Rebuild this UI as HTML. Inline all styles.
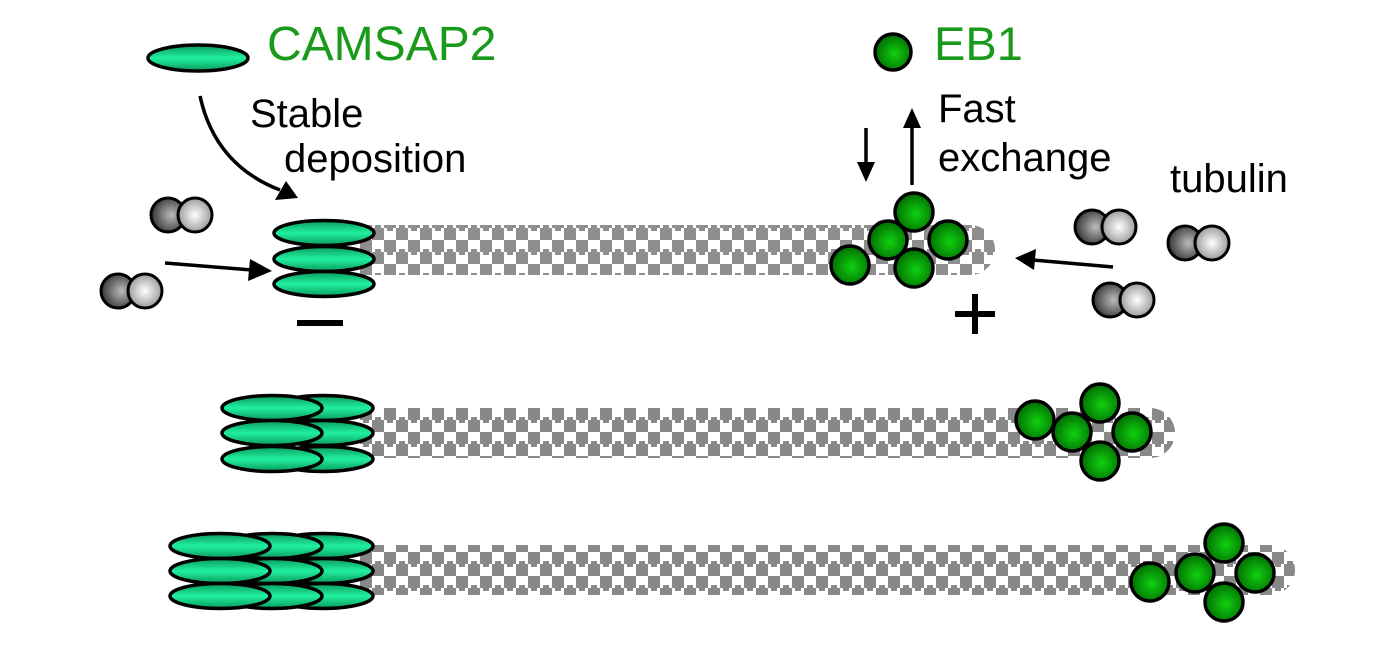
<!DOCTYPE html>
<html><head><meta charset="utf-8"><style>html,body{margin:0;padding:0;background:#fff}svg{display:block}</style></head><body>
<svg width="1386" height="657" viewBox="0 0 1386 657" xmlns="http://www.w3.org/2000/svg" font-family="Liberation Sans, Arial, sans-serif">
<defs>
<pattern id="chk" width="24" height="24" patternUnits="userSpaceOnUse">
<rect width="24" height="24" fill="#fff"/>
<rect width="12" height="12" fill="#888"/><rect x="12" y="12" width="12" height="12" fill="#888"/>
<rect x="3" y="12" width="6" height="3" fill="#888"/><rect x="15" y="9" width="6" height="3" fill="#888"/>
</pattern>
<linearGradient id="gE" x1="0" y1="0" x2="0" y2="1"><stop offset="0" stop-color="#0a9a5a"/><stop offset="0.5" stop-color="#20f0a0"/><stop offset="1" stop-color="#0a9a5a"/></linearGradient>
<radialGradient id="gB" cx="0.55" cy="0.55" r="0.6"><stop offset="0" stop-color="#10d010"/><stop offset="1" stop-color="#006400"/></radialGradient>
<radialGradient id="gT1" cx="0.6" cy="0.5" r="0.6"><stop offset="0" stop-color="#bbb"/><stop offset="1" stop-color="#333"/></radialGradient>
<radialGradient id="gT2" cx="0.5" cy="0.5" r="0.6"><stop offset="0" stop-color="#fff"/><stop offset="1" stop-color="#888"/></radialGradient>
<g id="E"><ellipse rx="50" ry="12.5" fill="url(#gE)" stroke="#000" stroke-width="3.5"/></g>
<g id="B"><circle r="19" fill="url(#gB)" stroke="#000" stroke-width="3.5"/></g>
<g id="T"><circle cx="0" r="17" fill="url(#gT1)" stroke="#000" stroke-width="3"/><circle cx="27" r="17" fill="url(#gT2)" stroke="#000" stroke-width="3"/></g>
</defs>

<path d="M360,225 H970 A25,25 0 0 1 970,275 H360 Z" fill="url(#chk)" opacity="0.95"/>
<path d="M360,408 H1150 A25,25 0 0 1 1150,458 H360 Z" fill="url(#chk)"/>
<path d="M360,545 H1270 A25,25 0 0 1 1270,595 H360 Z" fill="url(#chk)"/>

<use href="#E" x="324" y="233"/><use href="#E" x="324" y="259"/><use href="#E" x="324" y="284"/>
<use href="#E" x="323" y="408"/><use href="#E" x="323" y="433"/><use href="#E" x="323" y="459"/>
<use href="#E" x="272" y="408"/><use href="#E" x="272" y="433"/><use href="#E" x="272" y="459"/>
<use href="#E" x="323" y="546"/><use href="#E" x="323" y="571"/><use href="#E" x="323" y="596"/>
<use href="#E" x="272" y="546"/><use href="#E" x="272" y="571"/><use href="#E" x="272" y="596"/>
<use href="#E" x="220" y="546"/><use href="#E" x="220" y="571"/><use href="#E" x="220" y="596"/>

<use href="#B" x="850" y="265"/><use href="#B" x="914" y="212"/><use href="#B" x="888" y="240"/><use href="#B" x="948" y="240"/><use href="#B" x="914" y="268"/>
<use href="#B" x="1035" y="420"/><use href="#B" x="1100" y="403"/><use href="#B" x="1072" y="432"/><use href="#B" x="1132" y="432"/><use href="#B" x="1100" y="461"/>
<use href="#B" x="1150" y="582"/><use href="#B" x="1224" y="543"/><use href="#B" x="1195" y="573"/><use href="#B" x="1255" y="573"/><use href="#B" x="1224" y="602"/>

<use href="#T" x="168" y="215"/><use href="#T" x="118" y="291"/>
<use href="#T" x="1092" y="227"/><use href="#T" x="1185" y="243"/><use href="#T" x="1110" y="300"/>

<ellipse cx="198" cy="58" rx="50" ry="13" fill="url(#gE)" stroke="#000" stroke-width="3.5"/>
<text x="267" y="60" font-size="48" fill="#1a9a1a">CAMSAP2</text>
<circle cx="893" cy="52" r="18" fill="url(#gB)" stroke="#000" stroke-width="3.5"/>
<text x="934" y="60" font-size="47" fill="#1a9a1a">EB1</text>

<g font-size="40" fill="#000">
<text x="250" y="127">Stable</text><text x="284" y="172">deposition</text>
<text x="938" y="122">Fast</text><text x="938" y="171">exchange</text>
<text x="1170" y="192">tubulin</text>
</g>

<g stroke="#000" stroke-width="3.5" fill="none">
<path d="M200,96 Q215,165 280,190"/>
<line x1="165" y1="263" x2="252" y2="270"/>
<line x1="866" y1="128" x2="866" y2="165"/>
<line x1="912" y1="185" x2="912" y2="125"/>
<line x1="1113" y1="267" x2="1033" y2="260"/>
</g>
<g fill="#000">
<polygon points="298,198 275,200 286,181"/>
<polygon points="272,271 248,281 250,259"/>
<polygon points="866,182 857,162 875,162"/>
<polygon points="912,108 903,128 921,128"/>
<polygon points="1015,258 1036,249 1034,270"/>
<rect x="297" y="320" width="46" height="6"/>
<rect x="955" y="311" width="40" height="6"/><rect x="972" y="294" width="6" height="40"/>
</g>
</svg>
</body></html>
